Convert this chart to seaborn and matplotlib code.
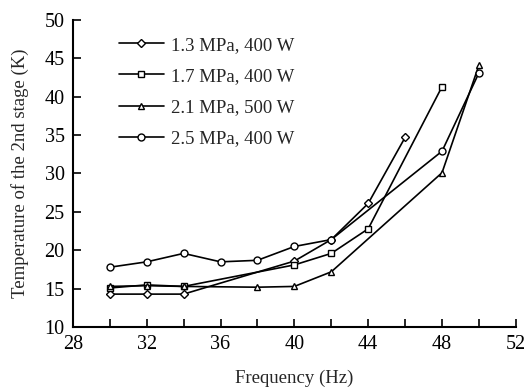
"""
Temperature of the 2nd stage vs compressor frequency, for four operating points.
"""
import numpy as np
import pandas as pd
import matplotlib
matplotlib.use('Agg')
import matplotlib.pyplot as plt
import seaborn as sns
from matplotlib.ticker import MultipleLocator

# ──────────────────────────────────────────
# DATA
# ──────────────────────────────────────────
labels = ['1.3 MPa, 400 W', '1.7 MPa, 400 W', '2.1 MPa, 500 W', '2.5 MPa, 400 W']

freq_13 = [30, 32, 34, 40, 42, 44, 46]
temp_13 = [14.3, 14.3, 14.3, 18.6, 21.4, 26.1, 34.7]

freq_17 = [30, 32, 34, 40, 42, 44, 48]
temp_17 = [15.1, 15.5, 15.3, 18.1, 19.6, 22.8, 41.3]

freq_21 = [30, 32, 34, 38, 40, 42, 48, 50]
temp_21 = [15.3, 15.4, 15.3, 15.2, 15.3, 17.2, 30.1, 44.1]

freq_25 = [30, 32, 34, 36, 38, 40, 42, 48, 50]
temp_25 = [17.8, 18.5, 19.6, 18.5, 18.7, 20.5, 21.4, 32.9, 43.1]

series = [(freq_13, temp_13), (freq_17, temp_17), (freq_21, temp_21), (freq_25, temp_25)]
df = pd.concat([
    pd.DataFrame({'freq': f, 'temp': t, 'case': lab})
    for lab, (f, t) in zip(labels, series)
], ignore_index=True)

# ──────────────────────────────────────────
# FIGURE
# ──────────────────────────────────────────
sns.set_style('ticks')
plt.rcParams['font.family'] = ['Liberation Serif', 'DejaVu Serif']

fig = plt.figure(figsize=(5.28, 3.89), dpi=100)
ax = fig.add_axes([0.138, 0.159, 0.839, 0.79])

marker_map = dict(zip(labels, ['D', 's', '^', 'o']))
sns.lineplot(data=df, x='freq', y='temp', style='case', style_order=labels,
             markers=marker_map, dashes=False, color='black', linewidth=1.2,
             markersize=5, legend=False, ax=ax, sort=True)

for line in ax.lines:
    line.set_markerfacecolor('white')
    line.set_markeredgecolor('black')
    line.set_markeredgewidth(1.0)
    if line.get_marker() == 'D':
        line.set_markersize(4.2)

ax.legend(handles=ax.lines, labels=labels, loc='upper left', frameon=False,
          bbox_to_anchor=(0.066, 1.0), fontsize=13.5, handlelength=2.4,
          handletextpad=0.4, labelspacing=0.75)

ax.set_xlim(28, 52)
ax.set_ylim(10, 50)
ax.xaxis.set_major_locator(MultipleLocator(4))
ax.xaxis.set_minor_locator(MultipleLocator(2))
ax.yaxis.set_major_locator(MultipleLocator(5))
ax.tick_params(which='both', direction='in', width=1.2, labelsize=14.5, colors='black')
ax.tick_params(which='major', length=6, pad=6)
ax.tick_params(axis='x', which='minor', length=6)

for side in ['left', 'bottom']:
    ax.spines[side].set_linewidth(1.5)
    ax.spines[side].set_color('black')
sns.despine(ax=ax)

ax.set_xlabel('Frequency (Hz)', fontsize=13.5, labelpad=11)
ax.set_ylabel('Temperature of the 2nd stage (K)', fontsize=13.5, labelpad=11)

fig.savefig('out.png', dpi=100)
